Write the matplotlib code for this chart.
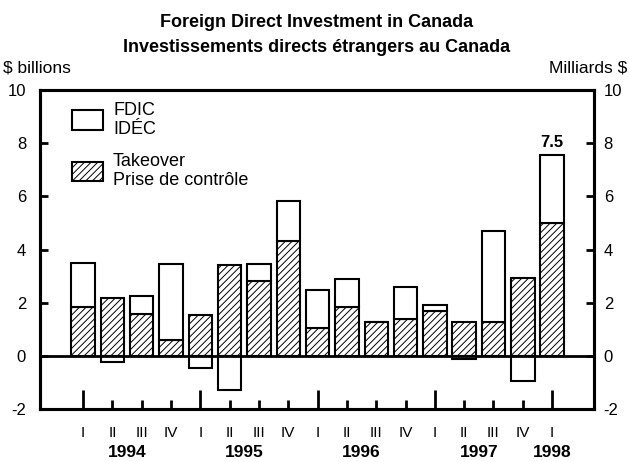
import numpy as np
import matplotlib.pyplot as plt
from matplotlib.patches import Patch

plt.rcParams['font.family'] = ['Liberation Sans', 'DejaVu Sans']
plt.rcParams['hatch.linewidth'] = 0.7
plt.rcParams['axes.unicode_minus'] = False

# Quarterly data, $ billions (1994 Q1 - 1998 Q1)
quarters = ["I", "II", "III", "IV"] * 4 + ["I"]
years = ["1994", "1995", "1996", "1997", "1998"]
takeover = [1.83, 2.19, 1.58, 0.58, 1.54, 3.42, 2.80, 4.34, 1.03,
            1.82, 1.27, 1.40, 1.68, 1.27, 1.29, 2.93, 4.99]
other_fdi = [1.67, -0.24, 0.67, 2.87, -0.45, -1.30, 0.65, 1.50, 1.45,
             1.08, 0.0, 1.20, 0.25, -0.12, 3.41, -0.95, 2.55]

x = np.arange(len(takeover))
takeover = np.array(takeover)
other_fdi = np.array(other_fdi)
# white part sits on top of takeover when positive, below zero when negative
other_bottom = np.where(other_fdi >= 0, takeover, 0)

fig = plt.figure(figsize=(6.29, 4.62), dpi=100)
ax = fig.add_axes([0.0636, 0.1147, 0.8808, 0.6903])

ax.bar(x, takeover, width=0.8, color="white", edgecolor="black",
       linewidth=1.5, hatch="/////")
ax.bar(x, other_fdi, bottom=other_bottom, width=0.8, color="white",
       edgecolor="black", linewidth=1.5)
ax.axhline(0, color="black", linewidth=2)

total_last = takeover[-1] + other_fdi[-1]
ax.text(x[-1], total_last + 0.3, "7.5", ha="center", va="baseline",
        fontsize=12, fontweight="bold")

ax.set_xlim(-1.47, 17.43)
ax.set_ylim(-2, 10)
yt = np.arange(-2, 11, 2)
ax.set_yticks(yt)
ax.tick_params(axis="y", direction="in", length=6, width=2, labelsize=12, pad=10)

# right-hand scale
ax2 = ax.twinx()
ax2.set_ylim(-2, 10)
ax2.set_yticks(yt)
ax2.tick_params(axis="y", direction="in", length=6, width=2, labelsize=12, pad=7)
for a in (ax, ax2):
    for s in a.spines.values():
        s.set_linewidth(2.2)

# x ticks: long at first quarter, short otherwise
major = [i for i in x if quarters[i] == "I"]
minor = [i for i in x if quarters[i] != "I"]
ax.set_xticks(major, labels=["I"] * len(major))
ax.set_xticks(minor, labels=[quarters[i] for i in minor], minor=True)
ax.tick_params(axis="x", which="major", direction="in", length=14, width=2,
               labelsize=11, pad=12)
ax.tick_params(axis="x", which="minor", direction="in", length=6.5, width=2,
               labelsize=11, pad=12)

# year labels centred under their quarters
for k, yr in enumerate(years):
    idx = x[4 * k:4 * k + 4]
    ax.text(idx.mean(), -0.113, yr, transform=ax.get_xaxis_transform(),
            ha="center", va="top", fontsize=12.5, fontweight="bold")

fig.text(0.005, 1 - 72 / 462, "$ billions", fontsize=12.5, ha="left", va="baseline")
fig.text(0.997, 1 - 72 / 462, "Milliards $", fontsize=12.5, ha="right", va="baseline")
fig.text(0.504, 1 - 27 / 462, "Foreign Direct Investment in Canada",
         fontsize=13, fontweight="bold", ha="center", va="baseline")
fig.text(0.504, 1 - 52 / 462, "Investissements directs étrangers au Canada",
         fontsize=13, fontweight="bold", ha="center", va="baseline")

handles = [Patch(facecolor="white", edgecolor="black", linewidth=1.5),
           Patch(facecolor="white", edgecolor="black", linewidth=1.5, hatch="/////")]
ax.legend(handles, ["FDIC\nIDÉC", "Takeover\nPrise de contrôle"], loc="upper left",
          bbox_to_anchor=(0.0578, 0.964), frameon=False, fontsize=13,
          borderpad=0, borderaxespad=0,
          handlelength=1.72, handleheight=1.3, handletextpad=0.55,
          labelspacing=0.8)

fig.savefig("out.png", dpi=100)
